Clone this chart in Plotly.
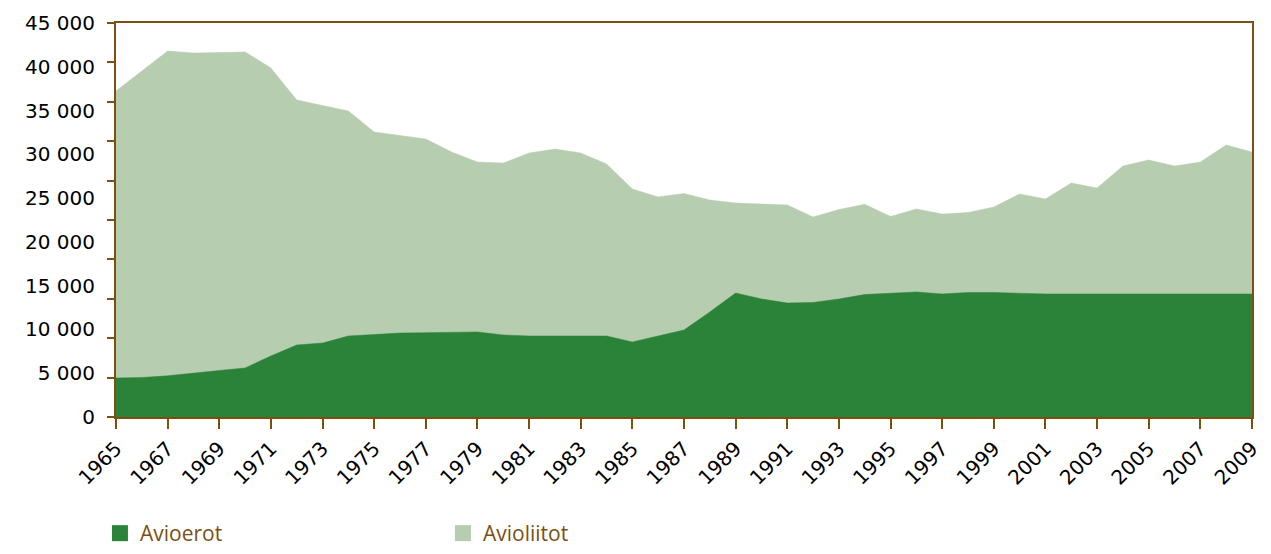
import plotly.graph_objects as go

years = list(range(1965, 2010))

# Avioliitot (marriages)
avioliitot = [37230, 39500, 41800, 41570, 41630, 41690, 39860, 36200, 35580, 34950,
              32550, 32130, 31750, 30270, 29120, 29000, 30150, 30600, 30150, 28900,
              26040, 25130, 25520, 24780, 24440, 24330, 24210, 22840, 23700, 24290,
              22900, 23760, 23180, 23360, 23980, 25470, 24900, 26720, 26150, 28660,
              29350, 28660, 29120, 31060, 30260]

# Avioerot (divorces)
avioerot = [4450, 4510, 4700, 5030, 5310, 5600, 6970, 8220, 8450, 9250,
            9420, 9590, 9630, 9670, 9710, 9370, 9250, 9250, 9250, 9250,
            8570, 9250, 9940, 11990, 14160, 13480, 13020, 13080, 13480, 13990,
            14100, 14280, 14050, 14220, 14220, 14100, 14050, 14050, 14050, 14050,
            14050, 14050, 14050, 14050, 14050]

label_vals = list(range(0, 45001, 5000))
label_text = ["0" if v == 0 else f"{v // 1000} 000" for v in label_vals]
tick_mark_vals = [i * 4500 for i in range(11)]
x_ticks = list(range(1965, 2010, 2))

BROWN = "#7B5012"
DARK = "#2B8239"
LIGHT = "#B6CDB0"
TICKFONT = dict(family="DejaVu Sans", size=20, color="black")

fig = go.Figure()
fig.add_trace(go.Scatter(x=years, y=avioliitot, fill="tozeroy", mode="lines",
                         line=dict(color=LIGHT, width=0.5), fillcolor=LIGHT,
                         name="Avioliitot", showlegend=False))
fig.add_trace(go.Scatter(x=years, y=avioerot, fill="tozeroy", mode="lines",
                         line=dict(color=DARK, width=0.5), fillcolor=DARK,
                         name="Avioerot", showlegend=False))
# legend entries
fig.add_trace(go.Scatter(x=[None], y=[None], mode="markers", name="Avioerot",
                         marker=dict(symbol="square", size=16, color=DARK)))
fig.add_trace(go.Scatter(x=[None], y=[None], mode="markers", name="Avioliitot",
                         marker=dict(symbol="square", size=16, color=LIGHT)))
# tick-mark axis carrier
fig.add_trace(go.Scatter(x=[1965], y=[0], yaxis="y2", mode="markers",
                         marker=dict(opacity=0), showlegend=False, hoverinfo="skip"))

fig.update_layout(
    width=1263, height=546,
    margin=dict(l=108, r=19, t=15, b=137),
    paper_bgcolor="white", plot_bgcolor="white",
    font=dict(family="DejaVu Sans", size=20, color="black"),
    xaxis=dict(range=[1965, 2009], tickvals=x_ticks, ticktext=[str(y) for y in x_ticks],
               tickangle=-45, ticks="outside", ticklen=10, tickwidth=2, tickcolor=BROWN,
               showline=True, linecolor=BROWN, linewidth=2, mirror=True,
               showgrid=False, zeroline=False, tickfont=TICKFONT, automargin=False),
    yaxis=dict(range=[0, 45000], tickvals=label_vals, ticktext=label_text,
               ticks="", showline=True, linecolor=BROWN, linewidth=2, mirror=True,
               showgrid=False, zeroline=False, ticklabelstandoff=15,
               tickfont=TICKFONT, automargin=False),
    yaxis2=dict(range=[0, 45000], overlaying="y", side="left", tickvals=tick_mark_vals,
                ticks="outside", ticklen=8, tickwidth=2, tickcolor=BROWN,
                showticklabels=False, showline=False, showgrid=False, zeroline=False),
    legend=dict(orientation="h", xref="container", yref="container",
                x=0.0728, y=0.0, xanchor="left", yanchor="bottom",
                entrywidth=298, entrywidthmode="pixels",
                font=dict(family="Open Sans", size=21, color=BROWN),
                bgcolor="rgba(0,0,0,0)"),
)

fig.write_html("out.html")
